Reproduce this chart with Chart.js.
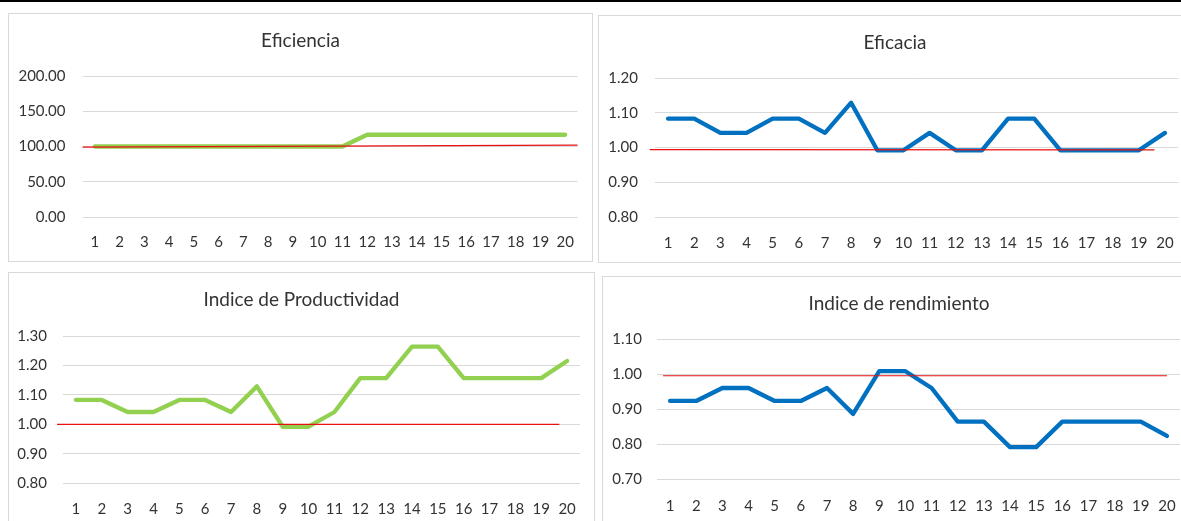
<!DOCTYPE html>
<html><head><meta charset="utf-8">
<script src="https://cdn.jsdelivr.net/npm/chart.js@4.4.1/dist/chart.umd.min.js"></script>
<style>
html,body{margin:0;padding:0;background:#fff;overflow:hidden;width:1181px;height:521px;position:relative}
.topline{position:absolute;left:0;top:0;width:1181px;height:2px;background:#000}
.panel{position:absolute;border:1px solid #d9d9d9;background:#fff;box-sizing:border-box}
.panel canvas{position:absolute;left:0;top:0}
</style></head><body>
<div class="topline"></div>
<div id="p1" class="panel"><canvas id="c1"></canvas></div>
<div id="p2" class="panel"><canvas id="c2"></canvas></div>
<div id="p3" class="panel"><canvas id="c3"></canvas></div>
<div id="p4" class="panel"><canvas id="c4"></canvas></div>
<script>
// ---- data ----
const categories = [1,2,3,4,5,6,7,8,9,10,11,12,13,14,15,16,17,18,19,20];

const eficiencia    = [100,100,100,100,100,100,100,100,100,100,100,116.7,116.7,116.7,116.7,116.7,116.7,116.7,116.7,116.7];
const eficacia      = [1.083,1.083,1.042,1.042,1.083,1.083,1.042,1.129,0.992,0.992,1.042,0.992,0.992,1.083,1.083,0.992,0.992,0.992,0.992,1.042];
const productividad = [1.083,1.083,1.042,1.042,1.083,1.083,1.042,1.129,0.992,0.992,1.042,1.157,1.157,1.264,1.264,1.157,1.157,1.157,1.157,1.215];
const rendimiento   = [0.923,0.923,0.960,0.960,0.923,0.923,0.960,0.886,1.008,1.008,0.960,0.864,0.864,0.791,0.791,0.864,0.864,0.864,0.864,0.823];

// red reference lines (x in category units, y values)
const refEficienciaX = [0.5, 20.5];   const refEficienciaY = [99, 102];
const refEficaciaX = [0.3, 19.6];     const refEficaciaY = [0.994, 0.993];
const refProductividadX = [0.27, 19.7]; const refProductividadY = [1.0, 1.0];
const refRendimientoX = [0.73, 20.0]; const refRendimientoY = [0.995, 0.995];

// tick labels
const ticksEficiencia = [0, 50, 100, 150, 200];
const ticksEficacia = [0.8, 0.9, 1.0, 1.1, 1.2];
const ticksProductividad = [0.8, 0.9, 1.0, 1.1, 1.2, 1.3];
const ticksRendimiento = [0.7, 0.8, 0.9, 1.0, 1.1];

const titles = ['Eficiencia', 'Eficacia', 'Indice de Productividad', 'Indice de rendimiento'];

// ---- layout (page pixel geometry) ----
const GREEN = '#92D050', BLUE = '#0070C0', RED = '#E81010';
const TEXT = '#333333', GRID = '#d9d9d9';
const FONT = 'Lato';
const TITLE_SIZE = 19, TICK_SIZE = 15;

const panels = [
  {canvas:'c1', div:'p1', box:{l:8,t:13,r:593,b:262}, plot:{l:82.5,r:577.5,t:76,b:217}, titleY:41, xLabelY:242, yLabelRight:65.5,
   title:titles[0], values:eficiencia, color:GREEN, refX:refEficienciaX, refY:refEficienciaY, yTicks:ticksEficiencia},
  {canvas:'c2', div:'p2', box:{l:598,t:15,r:1192,b:263}, plot:{l:655,r:1178.5,t:78,b:217}, titleY:42.5, xLabelY:243, yLabelRight:638,
   title:titles[1], values:eficacia, color:BLUE, refX:refEficaciaX, refY:refEficaciaY, yTicks:ticksEficacia},
  {canvas:'c3', div:'p3', box:{l:8,t:272,r:595,b:560}, plot:{l:63,r:580,t:336,b:483.3}, titleY:300, xLabelY:509, yLabelRight:47,
   title:titles[2], values:productividad, color:GREEN, refX:refProductividadX, refY:refProductividadY, yTicks:ticksProductividad},
  {canvas:'c4', div:'p4', box:{l:602,t:276,r:1196,b:560}, plot:{l:657,r:1180,t:339,b:479}, titleY:303.5, xLabelY:506, yLabelRight:642,
   title:titles[3], values:rendimiento, color:BLUE, refX:refRendimientoX, refY:refRendimientoY, yTicks:ticksRendimiento}
];

function build(p) {
  const div = document.getElementById(p.div);
  div.style.left = p.box.l + 'px'; div.style.top = p.box.t + 'px';
  div.style.width = (p.box.r - p.box.l) + 'px'; div.style.height = (p.box.b - p.box.t) + 'px';
  const cl = p.box.l + 1, ct = p.box.t + 1;
  const W = p.box.r - p.box.l - 2, H = p.box.b - p.box.t - 2;
  const cv = document.getElementById(p.canvas);
  cv.width = W; cv.height = H; cv.style.width = W + 'px'; cv.style.height = H + 'px';

  const yAxisWidth = p.plot.l - cl;
  const rightGap = cl + W - p.plot.r;
  const tLH = TITLE_SIZE * 1.2;
  const tPadTop = (p.titleY - ct) - tLH / 2;
  const tPadBottom = (p.plot.t - ct) - tPadTop - tLH;
  const xAxisHeight = ct + H - p.plot.b;
  const xTickPad = p.xLabelY - p.plot.b - TICK_SIZE * 1.2 / 2;
  const yTickPad = p.plot.l - p.yLabelRight;

  const mainData = categories.map((c, i) => ({x: c, y: p.values[i]}));
  const refData = p.refX.map((x, i) => ({x: x, y: p.refY[i]}));

  new Chart(cv, {
    type: 'line',
    data: {
      datasets: [
        {data: mainData, borderColor: p.color, backgroundColor: p.color, borderWidth: 4.3,
         pointRadius: 0, tension: 0, fill: false, order: 2, borderJoinStyle: 'round', borderCapStyle: 'round'},
        {data: refData, borderColor: RED, backgroundColor: RED, borderWidth: 1.2,
         pointRadius: 0, tension: 0, fill: false, order: 1, clip: false}
      ]
    },
    options: {
      responsive: false, animation: false, events: [],
      layout: {padding: 0},
      plugins: {
        legend: {display: false}, tooltip: {enabled: false},
        title: {display: true, text: p.title, color: TEXT,
                font: {family: FONT, size: TITLE_SIZE, weight: 'normal'},
                padding: {top: tPadTop, bottom: tPadBottom}}
      },
      scales: {
        x: {
          type: 'linear', min: 0.5, max: 20.5,
          grid: {display: false, drawTicks: false}, border: {display: false},
          afterBuildTicks: s => { s.ticks = categories.map(v => ({value: v})); },
          afterFit: s => { s.height = xAxisHeight; },
          ticks: {color: TEXT, font: {family: FONT, size: TICK_SIZE}, padding: xTickPad, maxRotation: 0, autoSkip: false,
                  callback: v => String(v)}
        },
        y: {
          type: 'linear', position: 'left',
          min: p.yTicks[0], max: p.yTicks[p.yTicks.length - 1],
          grid: {color: GRID, lineWidth: 1, drawTicks: false}, border: {display: false},
          afterBuildTicks: s => { s.ticks = p.yTicks.map(v => ({value: v})); },
          afterFit: s => { s.width = yAxisWidth; },
          ticks: {color: TEXT, font: {family: FONT, size: TICK_SIZE}, padding: yTickPad,
                  callback: v => Number(v).toFixed(2)}
        },
        yr: {
          type: 'linear', position: 'right', display: true,
          grid: {display: false, drawTicks: false}, border: {display: false},
          ticks: {display: false},
          afterFit: s => { s.width = rightGap; }
        }
      }
    }
  });
}
panels.forEach(build);
</script>
</body></html>
